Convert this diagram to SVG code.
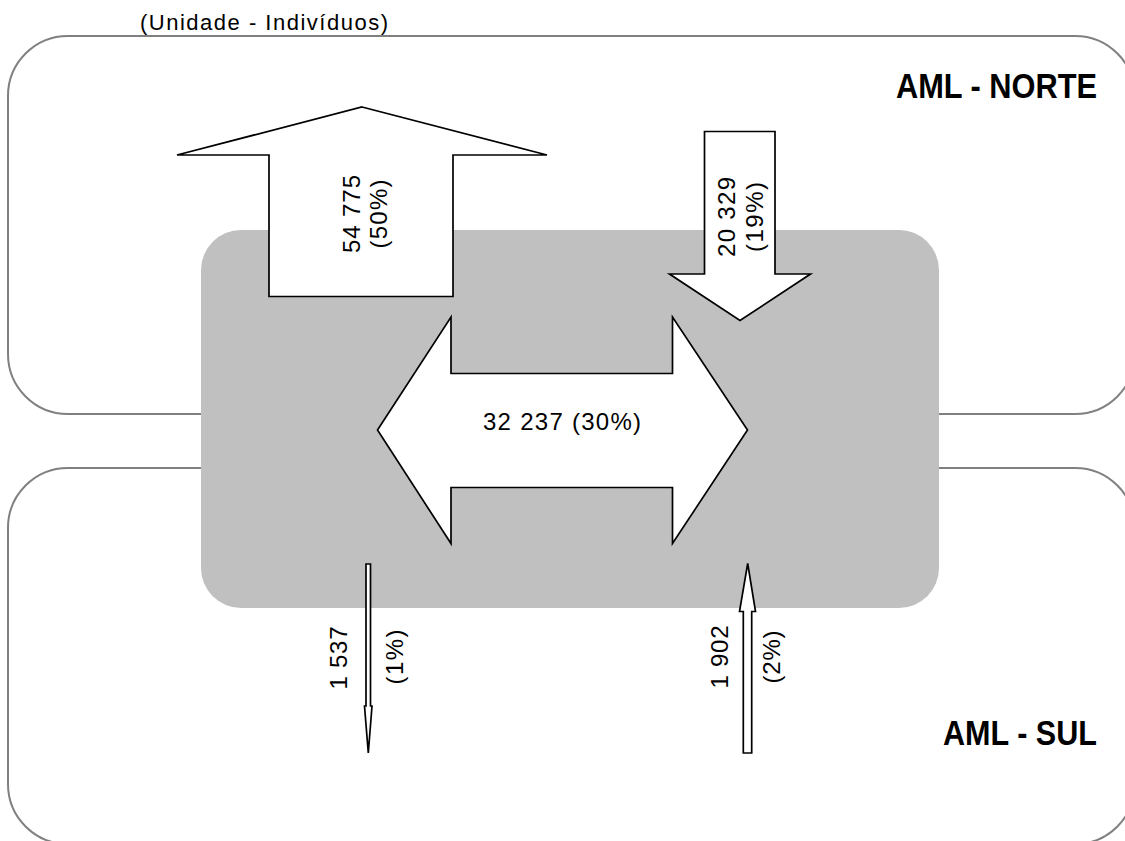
<svg xmlns="http://www.w3.org/2000/svg" width="1125" height="841" viewBox="0 0 1125 841">
  <style>
    .region { fill: #ffffff; stroke: #808080; stroke-width: 2; }
    .core { fill: #c0c0c0; stroke: none; }
    .arrow { fill: #ffffff; stroke: #000000; stroke-width: 1.7; stroke-linejoin: miter; }
    .lbl { font-family: "Liberation Sans", Arial, sans-serif; font-size: 24px; fill: #000000; text-anchor: middle; }
    .title { font-family: "Liberation Sans", Arial, sans-serif; font-size: 35px; font-weight: bold; fill: #000000; }
    .unit { font-family: "Liberation Sans", Arial, sans-serif; font-size: 22px; fill: #000000; }
  </style>
  <rect width="1125" height="841" fill="#ffffff"/>
  <text class="unit" x="140" y="30" textLength="248" lengthAdjust="spacing">(Unidade - Indivíduos)</text>

  <g id="aml-norte">
    <rect class="region" x="8" y="36" width="1127" height="378" rx="60" ry="60"/>
    <text class="title" x="896" y="98" textLength="201" lengthAdjust="spacingAndGlyphs">AML - NORTE</text>
  </g>
  <g id="aml-sul">
    <rect class="region" x="8" y="468" width="1127" height="376" rx="60" ry="60"/>
    <text class="title" x="943" y="745" textLength="154" lengthAdjust="spacingAndGlyphs">AML - SUL</text>
  </g>
  <g id="centro">
    <rect class="core" x="201" y="230" width="738" height="378" rx="40" ry="40"/>
  </g>

  <g id="connectors">
    <g id="arrow-up-big">
      <polygon class="arrow" points="362,107 547,155 453,155 453,296.5 269,296.5 269,155 177,155"/>
      <text class="lbl" transform="translate(360,214) rotate(-90)" textLength="78" lengthAdjust="spacing">54 775</text>
      <text class="lbl" transform="translate(387,214) rotate(-90)" textLength="69" lengthAdjust="spacing">(50%)</text>
    </g>
    <g id="arrow-down-big">
      <polygon class="arrow" points="704.5,131.5 775,131.5 775,274 810.5,274 740,320.5 669.5,274 704.5,274"/>
      <text class="lbl" transform="translate(735,217) rotate(-90)" textLength="80" lengthAdjust="spacing">20 329</text>
      <text class="lbl" transform="translate(763,217) rotate(-90)" textLength="70" lengthAdjust="spacing">(19%)</text>
    </g>
    <g id="arrow-both">
      <polygon class="arrow" points="377.5,430 451,317 451,373.5 672.5,373.5 672.5,317 747.5,430 672.5,543.5 672.5,487.5 451,487.5 451,543.5"/>
      <text class="lbl" x="562" y="430" textLength="158" lengthAdjust="spacing">32 237 (30%)</text>
    </g>
    <g id="arrow-down-small">
      <polygon class="arrow" points="366,564 370.5,564 370.5,706 372,706 368.3,753 364.5,706 366,706"/>
      <text class="lbl" transform="translate(347,658) rotate(-90)" textLength="63" lengthAdjust="spacing">1 537</text>
      <text class="lbl" transform="translate(403,657) rotate(-90)" textLength="55" lengthAdjust="spacing">(1%)</text>
    </g>
    <g id="arrow-up-small">
      <polygon class="arrow" points="747.7,563.5 755.5,611.5 751.7,611.5 751.7,753 743.3,753 743.3,611.5 739.5,611.5"/>
      <text class="lbl" transform="translate(728,657) rotate(-90)" textLength="63" lengthAdjust="spacing">1 902</text>
      <text class="lbl" transform="translate(780,657) rotate(-90)" textLength="53" lengthAdjust="spacing">(2%)</text>
    </g>
  </g>
</svg>
